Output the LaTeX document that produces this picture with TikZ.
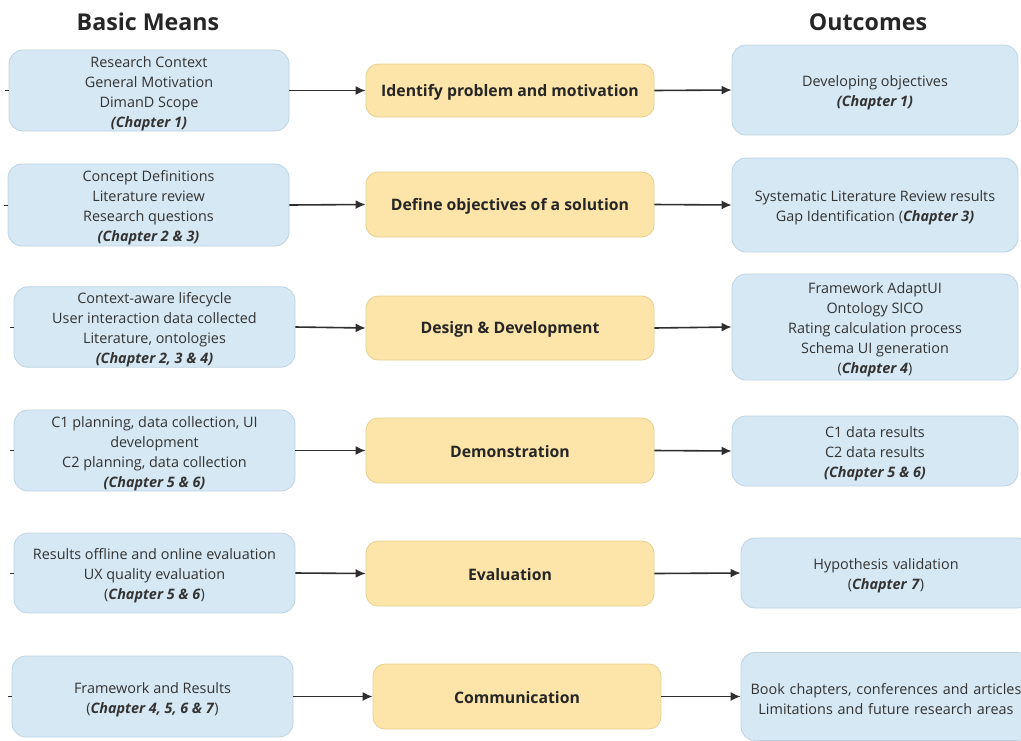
\documentclass[tikz,border=0pt]{standalone}
\usepackage{fontspec}
\setmainfont{Open Sans}
\usetikzlibrary{arrows.meta}
\definecolor{meansfill}{HTML}{D5E8F4}
\definecolor{meansdraw}{HTML}{BDD3E2}
\definecolor{stagefill}{HTML}{FDE5A9}
\definecolor{stagedraw}{HTML}{E8CF91}
\definecolor{ink}{HTML}{333333}
\definecolor{wire}{HTML}{2E2E2E}
\tikzset{
  infobox/.style={draw=meansdraw, fill=meansfill, line width=0.8pt, rounded corners=14pt,
    align=center, text=ink, inner sep=0pt,
    font=\fontsize{14.4}{20}\selectfont},
  stagebox/.style={draw=stagedraw, fill=stagefill, line width=0.8pt, rounded corners=12pt,
    align=center, text=black!85, inner sep=0pt, minimum width=288pt,
    font=\fontsize{15.8}{20}\selectfont\bfseries},
  header/.style={font=\fontsize{23.2}{26}\selectfont\bfseries, text=black!85},
  flow/.style={draw=wire, line width=1.6pt, arrows={-Latex[length=10pt,width=9pt]}},
  stub/.style={draw=wire, line width=1pt}
}
\newcommand{\chap}[1]{\textbf{\textit{#1}}}
% taller first line: sets each text block a little below the box centre
\newcommand{\topgap}{\rule{0pt}{17pt}}
\begin{document}
\begin{tikzpicture}
  \useasboundingbox (0pt,0pt) rectangle (1021pt,-740pt);

  \begin{scope}[x=1pt,y=-1pt]
  % column headers
  \node[header] (hmeans) at (148,22) {Basic Means};
  \node[header] (hout) at (868,22) {Outcomes};

  % basic means
  \node[infobox, minimum width=280pt, minimum height=81pt] (l1) at (149,90.5)
    {\topgap Research Context\\General Motivation\\DimanD Scope\\\chap{(Chapter 1)}};
  \node[infobox, minimum width=281pt, minimum height=82pt] (l2) at (148.5,205)
    {\topgap Concept Definitions\\Literature review\\Research questions\\\chap{(Chapter 2 \& 3)}};
  \node[infobox, minimum width=281pt, minimum height=80pt] (l3) at (154.5,327)
    {\topgap Context-aware lifecycle\\User interaction data collected\\Literature, ontologies\\\chap{(Chapter 2, 3 \& 4)}};
  \node[infobox, minimum width=281pt, minimum height=81pt] (l4) at (154.5,450.5)
    {\topgap C1 planning, data collection, UI\\development\\C2 planning, data collection\\\chap{(Chapter 5 \& 6)}};
  \node[infobox, minimum width=281pt, minimum height=80pt] (l5) at (154.5,573)
    {\topgap Results offline and online evaluation\\UX quality evaluation\\(\chap{Chapter 5 \& 6})};
  \node[infobox, minimum width=281pt, minimum height=81pt] (l6) at (152.5,696.5)
    {\topgap Framework and Results\\(\chap{Chapter 4, 5, 6 \& 7})};

  % process stages
  \node[stagebox, minimum height=53pt] (m1) at (510,90.5) {\rule{0pt}{15pt}Identify problem and motivation};
  \node[stagebox, minimum height=65pt] (m2) at (510,204.5) {\rule{0pt}{15pt}Define objectives of a solution};
  \node[stagebox, minimum height=64pt] (m3) at (510,328) {\rule{0pt}{15pt}Design \& Development};
  \node[stagebox, minimum height=65pt] (m4) at (510,450.5) {\rule{0pt}{15pt}Demonstration};
  \node[stagebox, minimum height=65pt] (m5) at (510,573.5) {\rule{0pt}{15pt}Evaluation};
  \node[stagebox, minimum height=65pt] (m6) at (517,696.5) {\rule{0pt}{15pt}Communication};

  % outcomes (the two lowest run past the right edge)
  \node[infobox, minimum width=286pt, minimum height=90pt] (r1) at (875,90)
    {\topgap Developing objectives\\\chap{(Chapter 1)}};
  \node[infobox, minimum width=286pt, minimum height=94pt] (r2) at (875,205)
    {\topgap Systematic Literature Review results\\Gap Identification (\chap{Chapter 3)}};
  \node[infobox, minimum width=286pt, minimum height=106pt] (r3) at (875,327)
    {\topgap Framework AdaptUI\\Ontology SICO\\Rating calculation process\\Schema UI generation\\(\chap{Chapter 4})};
  \node[infobox, minimum width=286pt, minimum height=70pt] (r4) at (875,451)
    {\topgap C1 data results\\C2 data results\\\chap{(Chapter 5 \& 6)}};
  \node[infobox, minimum width=290pt, minimum height=70pt, text width=270pt] (r5) at (886,573)
    {\topgap Hypothesis validation\\(\chap{Chapter 7})};
  \node[infobox, minimum width=290pt, minimum height=88pt, text width=280pt] (r6) at (886,696.5)
    {\rule{0pt}{16pt}Book chapters, conferences and articles\\Limitations and future research areas};

  % incoming stubs on the left edge
  \foreach \i/\x in {1/5,2/4,3/10,4/10,5/10,6/8} {
    \coordinate (s\i) at (\x,0 |- l\i.west);
    \path[stub] (s\i) -- (l\i.west);
  }
  \end{scope}

  % connectors
  \foreach \i in {1,...,6} {
    \path[flow] (l\i.east) -- (m\i.west);
    \path[flow] (m\i.east) -- (r\i.west);
  }
\end{tikzpicture}
\end{document}
